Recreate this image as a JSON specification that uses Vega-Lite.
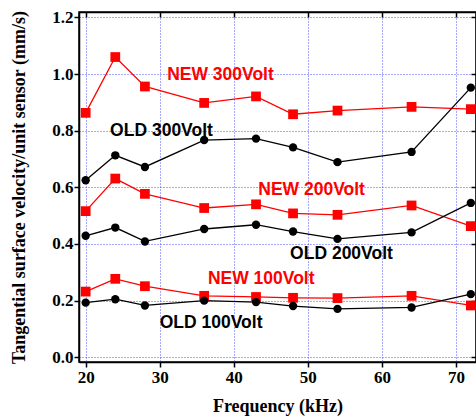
{
  "$schema": "https://vega.github.io/schema/vega-lite/v6.json",
  "width": 397,
  "height": 350,
  "autosize": {"type": "none"},
  "padding": {"left": 79, "top": 12, "right": 0, "bottom": 55},
  "background": "white",
  "config": {
    "view": {"stroke": "black", "strokeWidth": 1.5},
    "axis": {
      "labelFont": "Liberation Serif",
      "labelFontWeight": "bold",
      "labelFontSize": 17,
      "labelColor": "black",
      "titleFont": "Liberation Serif",
      "titleFontWeight": "bold",
      "titleFontSize": 18,
      "titleColor": "black",
      "domainColor": "black",
      "domainWidth": 1.5,
      "tickColor": "black",
      "tickWidth": 1.5
    }
  },
  "datasets": {
    "series": [
      {"f": 20, "v": 0.863, "s": "NEW300", "t": "NEW"},
      {"f": 24, "v": 1.060, "s": "NEW300", "t": "NEW"},
      {"f": 28, "v": 0.956, "s": "NEW300", "t": "NEW"},
      {"f": 36, "v": 0.898, "s": "NEW300", "t": "NEW"},
      {"f": 43, "v": 0.921, "s": "NEW300", "t": "NEW"},
      {"f": 48, "v": 0.858, "s": "NEW300", "t": "NEW"},
      {"f": 54, "v": 0.871, "s": "NEW300", "t": "NEW"},
      {"f": 64, "v": 0.884, "s": "NEW300", "t": "NEW"},
      {"f": 72, "v": 0.876, "s": "NEW300", "t": "NEW"},
      {"f": 20, "v": 0.625, "s": "OLD300", "t": "OLD"},
      {"f": 24, "v": 0.713, "s": "OLD300", "t": "OLD"},
      {"f": 28, "v": 0.672, "s": "OLD300", "t": "OLD"},
      {"f": 36, "v": 0.767, "s": "OLD300", "t": "OLD"},
      {"f": 43, "v": 0.772, "s": "OLD300", "t": "OLD"},
      {"f": 48, "v": 0.741, "s": "OLD300", "t": "OLD"},
      {"f": 54, "v": 0.689, "s": "OLD300", "t": "OLD"},
      {"f": 64, "v": 0.725, "s": "OLD300", "t": "OLD"},
      {"f": 72, "v": 0.952, "s": "OLD300", "t": "OLD"},
      {"f": 20, "v": 0.516, "s": "NEW200", "t": "NEW"},
      {"f": 24, "v": 0.631, "s": "NEW200", "t": "NEW"},
      {"f": 28, "v": 0.577, "s": "NEW200", "t": "NEW"},
      {"f": 36, "v": 0.527, "s": "NEW200", "t": "NEW"},
      {"f": 43, "v": 0.540, "s": "NEW200", "t": "NEW"},
      {"f": 48, "v": 0.508, "s": "NEW200", "t": "NEW"},
      {"f": 54, "v": 0.503, "s": "NEW200", "t": "NEW"},
      {"f": 64, "v": 0.536, "s": "NEW200", "t": "NEW"},
      {"f": 72, "v": 0.463, "s": "NEW200", "t": "NEW"},
      {"f": 20, "v": 0.429, "s": "OLD200", "t": "OLD"},
      {"f": 24, "v": 0.458, "s": "OLD200", "t": "OLD"},
      {"f": 28, "v": 0.409, "s": "OLD200", "t": "OLD"},
      {"f": 36, "v": 0.453, "s": "OLD200", "t": "OLD"},
      {"f": 43, "v": 0.468, "s": "OLD200", "t": "OLD"},
      {"f": 48, "v": 0.444, "s": "OLD200", "t": "OLD"},
      {"f": 54, "v": 0.418, "s": "OLD200", "t": "OLD"},
      {"f": 64, "v": 0.441, "s": "OLD200", "t": "OLD"},
      {"f": 72, "v": 0.545, "s": "OLD200", "t": "OLD"},
      {"f": 20, "v": 0.232, "s": "NEW100", "t": "NEW"},
      {"f": 24, "v": 0.277, "s": "NEW100", "t": "NEW"},
      {"f": 28, "v": 0.251, "s": "NEW100", "t": "NEW"},
      {"f": 36, "v": 0.217, "s": "NEW100", "t": "NEW"},
      {"f": 43, "v": 0.213, "s": "NEW100", "t": "NEW"},
      {"f": 48, "v": 0.210, "s": "NEW100", "t": "NEW"},
      {"f": 54, "v": 0.209, "s": "NEW100", "t": "NEW"},
      {"f": 64, "v": 0.217, "s": "NEW100", "t": "NEW"},
      {"f": 72, "v": 0.183, "s": "NEW100", "t": "NEW"},
      {"f": 20, "v": 0.193, "s": "OLD100", "t": "OLD"},
      {"f": 24, "v": 0.205, "s": "OLD100", "t": "OLD"},
      {"f": 28, "v": 0.183, "s": "OLD100", "t": "OLD"},
      {"f": 36, "v": 0.200, "s": "OLD100", "t": "OLD"},
      {"f": 43, "v": 0.195, "s": "OLD100", "t": "OLD"},
      {"f": 48, "v": 0.181, "s": "OLD100", "t": "OLD"},
      {"f": 54, "v": 0.171, "s": "OLD100", "t": "OLD"},
      {"f": 64, "v": 0.176, "s": "OLD100", "t": "OLD"},
      {"f": 72, "v": 0.223, "s": "OLD100", "t": "OLD"}
    ],
    "labels": [
      {"f": 31.0, "v": 0.996, "label": "NEW 300Volt", "t": "NEW"},
      {"f": 23.3, "v": 0.800, "label": "OLD 300Volt", "t": "OLD"},
      {"f": 43.3, "v": 0.590, "label": "NEW 200Volt", "t": "NEW"},
      {"f": 47.6, "v": 0.365, "label": "OLD 200Volt", "t": "OLD"},
      {"f": 36.5, "v": 0.276, "label": "NEW 100Volt", "t": "NEW"},
      {"f": 30.0, "v": 0.121, "label": "OLD 100Volt", "t": "OLD"}
    ]
  },
  "layer": [
    {
      "layer": [
        {
          "data": {"name": "series"},
          "mark": {"type": "line", "strokeWidth": 1.3},
          "encoding": {
            "x": {"field": "f", "type": "quantitative",
                  "scale": {"domain": [19.1, 72.7], "nice": false, "zero": false},
                  "axis": {"orient": "bottom", "title": "Frequency (kHz)", "values": [20, 30, 40, 50, 60, 70],
                           "tickSize": 5, "labelPadding": 2, "titlePadding": 12,
                           "grid": true, "gridColor": "#3333ff", "gridDash": [1, 2], "gridWidth": 1, "gridOpacity": 0.85}},
            "y": {"field": "v", "type": "quantitative",
                  "scale": {"domain": [-0.0166, 1.219], "nice": false, "zero": false},
                  "axis": {"orient": "left", "title": "Tangential surface velocity/unit sensor (mm/s)",
                           "values": [0, 0.2, 0.4, 0.6, 0.8, 1.0, 1.2], "format": ".1f",
                           "tickSize": 5, "labelPadding": 1, "titlePadding": 23,
                           "grid": true, "gridColor": "#3333ff", "gridDash": [1, 2], "gridWidth": 1, "gridOpacity": 0.85}},
            "color": {"field": "t", "type": "nominal", "scale": {"domain": ["NEW", "OLD"], "range": ["#ff0000", "#000000"]}, "legend": null},
            "detail": {"field": "s"}
          }
        },
        {
          "data": {"name": "series"},
          "mark": {"type": "point", "filled": true, "opacity": 1},
          "encoding": {
            "x": {"field": "f", "type": "quantitative"},
            "y": {"field": "v", "type": "quantitative"},
            "color": {"field": "t", "type": "nominal", "legend": null},
            "shape": {"field": "t", "type": "nominal", "scale": {"domain": ["NEW", "OLD"], "range": ["square", "circle"]}, "legend": null},
            "size": {"field": "t", "type": "nominal", "scale": {"domain": ["NEW", "OLD"], "range": [95, 70]}, "legend": null}
          }
        },
        {
          "data": {"name": "labels"},
          "mark": {"type": "text", "align": "left", "baseline": "middle", "font": "Liberation Sans", "fontWeight": "bold", "fontSize": 17.5},
          "encoding": {
            "x": {"field": "f", "type": "quantitative"},
            "y": {"field": "v", "type": "quantitative"},
            "text": {"field": "label"},
            "color": {"field": "t", "type": "nominal", "legend": null}
          }
        }
      ]
    },
    {
      "data": {"name": "series"},
      "mark": {"type": "point", "opacity": 0},
      "encoding": {
        "x": {"field": "f", "type": "quantitative",
              "axis": {"orient": "top", "title": null, "labels": false, "values": [20, 30, 40, 50, 60, 70], "tickSize": -5, "grid": false}},
        "y": {"field": "v", "type": "quantitative",
              "axis": {"orient": "right", "title": null, "labels": false, "values": [0, 0.2, 0.4, 0.6, 0.8, 1.0, 1.2], "tickSize": -5, "grid": false}}
      }
    }
  ],
  "resolve": {"axis": {"x": "independent", "y": "independent"}}
}
